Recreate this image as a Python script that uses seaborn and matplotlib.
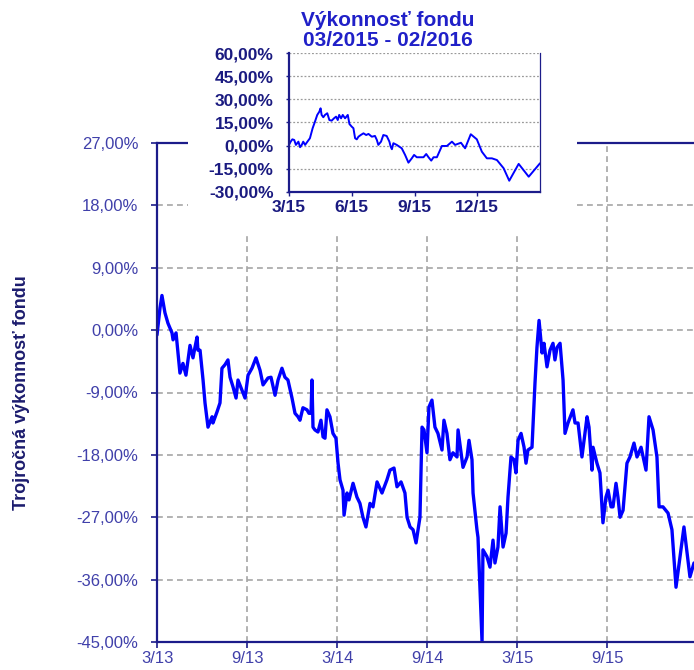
import matplotlib
matplotlib.use('Agg')
import matplotlib.pyplot as plt
import numpy as np
import pandas as pd
import seaborn as sns
from matplotlib.patches import Rectangle
from matplotlib.ticker import FuncFormatter

# ---------------- data ----------------
# main chart: months since 3/2013, three-year return in %
main_month = [0.00, 0.20, 0.33, 0.53, 0.73, 1.00, 1.07, 1.27, 1.53, 1.73, 1.93, 2.20, 2.40, 2.53, 2.67,
              2.73, 2.87, 3.07, 3.20, 3.40, 3.67, 3.73, 4.00, 4.20, 4.33, 4.53, 4.73, 4.87, 5.07, 5.27,
              5.40, 5.67, 5.87, 6.07, 6.33, 6.60, 6.87, 7.07, 7.40, 7.60, 7.87, 8.07, 8.33, 8.53, 8.73,
              9.00, 9.20, 9.40, 9.53, 9.73, 10.00, 10.13, 10.27, 10.33, 10.40, 10.53, 10.73, 10.93, 11.07,
              11.20, 11.33, 11.53, 11.73, 11.93, 12.07, 12.20, 12.40, 12.47, 12.67, 12.80, 13.07, 13.33,
              13.53, 13.73, 13.93, 14.20, 14.40, 14.67, 15.00, 15.33, 15.53, 15.80, 16.00, 16.27, 16.53,
              16.67, 16.87, 17.07, 17.27, 17.40, 17.53, 17.67, 17.80, 18.00, 18.13, 18.33, 18.53, 18.73,
              19.00, 19.13, 19.33, 19.53, 19.73, 20.00, 20.07, 20.27, 20.40, 20.67, 20.80, 21.00, 21.07,
              21.33, 21.40, 21.67, 21.73, 22.00, 22.20, 22.40, 22.53, 22.73, 22.87, 23.07, 23.27, 23.40,
              23.60, 23.80, 23.93, 24.07, 24.27, 24.47, 24.60, 24.73, 25.00, 25.20, 25.33, 25.47, 25.67,
              25.80, 26.00, 26.20, 26.40, 26.53, 26.67, 26.87, 27.07, 27.20, 27.40, 27.73, 27.87, 28.07,
              28.33, 28.47, 28.67, 28.80, 29.00, 29.07, 29.33, 29.53, 29.73, 29.93, 30.07, 30.27, 30.40,
              30.60, 30.73, 30.87, 31.07, 31.33, 31.53, 31.80, 32.00, 32.27, 32.60, 32.80, 33.07, 33.33,
              33.47, 33.73, 34.07, 34.33, 34.60, 35.13, 35.53, 35.80]
main_return = [-0.7, 3.2, 5.0, 2.5, 1.0, -0.4, -1.4, -0.4, -6.2, -4.8, -6.5, -2.2, -4.0, -2.5, -1.0,
               -2.9, -2.9, -7.2, -10.5, -14.0, -12.5, -13.4, -11.8, -10.5, -5.5, -5.0, -4.3, -6.8, -8.2, -9.8,
               -7.2, -8.7, -9.8, -6.5, -5.5, -4.0, -5.8, -7.9, -6.9, -6.8, -9.4, -7.2, -5.5, -6.8, -7.2,
               -9.8, -12.0, -12.5, -13.0, -11.2, -11.5, -12.0, -12.0, -7.2, -14.0, -14.4, -14.7, -13.0, -15.4,
               -15.6, -11.5, -12.5, -14.9, -15.6, -19.2, -21.6, -23.1, -26.7, -23.5, -24.5, -22.1, -24.1,
               -25.0, -27.0, -28.4, -25.0, -25.5, -21.9, -23.5, -21.6, -20.2, -19.9, -22.6, -21.9, -23.5,
               -27.0, -28.4, -28.8, -30.7, -28.8, -27.0, -14.0, -14.4, -17.7, -11.1, -10.1, -14.0, -14.9,
               -17.3, -13.0, -14.9, -18.7, -17.7, -18.3, -14.4, -17.7, -19.8, -18.3, -15.9, -18.7, -23.5,
               -28.8, -29.9, -45.0, -31.7, -32.7, -34.2, -30.3, -33.6, -31.3, -25.5, -31.3, -29.3, -24.1,
               -18.3, -18.7, -20.6, -15.9, -14.9, -16.9, -19.2, -17.3, -16.9, -7.6, -2.5, 1.4, -3.3,
               -1.9, -5.3, -2.9, -1.9, -4.3, -2.5, -1.9, -7.2, -14.9, -13.4, -11.5, -13.4, -13.4,
               -18.3, -15.9, -12.5, -14.0, -20.2, -16.9, -19.2, -20.6, -27.8, -24.1, -23.1, -25.5, -25.5,
               -22.1, -24.1, -27.0, -26.0, -19.2, -18.3, -16.3, -18.3, -16.9, -20.2, -12.5, -14.4, -18.3,
               -25.5, -25.5, -26.4, -28.8, -37.1, -28.4, -35.6, -33.6]

# inset: months since 3/2015, one-year return in %
inset_month = [0.00, 0.08, 0.16, 0.25, 0.33, 0.45, 0.53, 0.61, 0.68, 0.77, 0.88, 1.00, 1.13, 1.24, 1.35,
               1.45, 1.51, 1.56, 1.64, 1.72, 1.83, 1.93, 2.04, 2.15, 2.25, 2.33, 2.40, 2.49, 2.57, 2.68,
               2.81, 2.89, 3.00, 3.08, 3.16, 3.24, 3.32, 3.43, 3.56, 3.69, 3.80, 3.96, 4.11, 4.20, 4.27,
               4.40, 4.51, 4.67, 4.80, 4.86, 4.92, 4.99, 5.15, 5.39, 5.55, 5.71, 5.87, 5.98, 6.11, 6.27,
               6.43, 6.56, 6.67, 6.80, 6.91, 7.07, 7.31, 7.55, 7.79, 7.94, 8.22, 8.42, 8.69, 8.98, 9.22,
               9.46, 9.70, 9.94, 10.26, 10.53, 10.98, 11.46, 12.00]
inset_return = [0.5, 2.6, 4.1, 3.7, 0.5, 2.6, -1.0, 0.5, 2.6, 0.5, 2.6, 4.8, 11.3, 15.5, 19.9,
                22.0, 24.2, 19.9, 18.4, 19.9, 21.0, 16.6, 16.2, 17.7, 18.8, 16.6, 19.9, 17.7, 19.9, 17.7,
                19.9, 14.0, 12.3, 11.3, 4.8, 4.1, 5.8, 6.9, 8.0, 6.9, 7.6, 5.8, 6.3, 3.7, 0.5,
                2.6, 6.9, 6.3, 2.6, -0.6, -2.3, 1.6, 0.5, -1.7, -6.0, -11.0, -8.2, -6.0, -7.5, -7.5,
                -7.5, -5.4, -7.5, -9.7, -7.5, -7.5, -0.2, -0.2, 2.6, 0.5, 1.9, -1.7, 7.4, 4.1, -3.9,
                -8.2, -8.2, -9.3, -14.6, -22.7, -11.8, -20.1, -11.4]

main_tick_months = [0, 6, 12, 18, 24, 30]
main_tick_labels = ['3/13', '9/13', '3/14', '9/14', '3/15', '9/15']
main_y_ticks = [-45, -36, -27, -18, -9, 0, 9, 18, 27]
inset_tick_months = [0, 3, 6, 9]
inset_tick_labels = ['3/15', '6/15', '9/15', '12/15']
inset_y_ticks = [-30, -15, 0, 15, 30, 45, 60]

main_df = pd.DataFrame({'month': main_month, 'ret': main_return})
inset_df = pd.DataFrame({'month': inset_month, 'ret': inset_return})

# ---------------- style ----------------
sns.set_style('white')
plt.rcParams['font.family'] = ['Liberation Sans', 'DejaVu Sans']

NAVY = '#1c1c8a'
LABEL_BLUE = '#4040aa'
LINE_BLUE = '#0000ff'
GRID = '#a6a6a6'

pct = FuncFormatter(lambda v, p: f'{v:.2f}'.replace('.', ',') + '%')

fig = plt.figure(figsize=(6.94, 6.70), dpi=100)

# ---------------- main axes ----------------
ax = fig.add_axes([157 / 694, 28 / 670, 540 / 694, 499 / 670])
ax.set_facecolor('white')
sns.lineplot(data=main_df, x='month', y='ret', ax=ax, color=LINE_BLUE, lw=2.4,
             estimator=None, sort=False, legend=False)
ax.set_xlim(0, 36)
ax.set_ylim(-45, 27)
ax.set_yticks(main_y_ticks)
ax.yaxis.set_major_formatter(pct)
ax.set_xticks(main_tick_months)
ax.set_xticklabels(main_tick_labels)
ax.set_xlabel('')
ax.set_ylabel('Trojročná výkonnosť fondu', fontsize=13, fontweight='bold', color='#1c1c6e')
ax.yaxis.set_label_coords(-0.235, 0.5)

for s in ['left', 'bottom', 'top', 'right']:
    ax.spines[s].set_color(NAVY)
    ax.spines[s].set_linewidth(1.6)
ax.tick_params(axis='y', which='major', direction='out', length=4.5, width=1.2,
               color=NAVY, labelcolor=LABEL_BLUE, labelsize=12, pad=9, left=True)
ax.tick_params(axis='x', which='major', direction='out', length=4.5, width=1.2,
               color=NAVY, labelcolor=LABEL_BLUE, labelsize=12, pad=2, bottom=True)

for y in main_y_ticks[1:-1]:
    ax.axhline(y, color=GRID, lw=1.2, ls=(0, (3.5, 2.5)), zorder=0)
for x in main_tick_months[1:]:
    ax.axvline(x, color=GRID, lw=1.2, ls=(0, (3.5, 2.5)), zorder=0)

# white panel behind inset
fig.add_artist(Rectangle((188 / 694, (670 - 234) / 670), (577 - 188) / 694, 234 / 670,
                         transform=fig.transFigure, facecolor='white', edgecolor='none', zorder=1))

# ---------------- inset ----------------
ax2 = fig.add_axes([289 / 694, (670 - 192) / 670, 251 / 694, 139 / 670])
ax2.set_zorder(3)
ax2.set_facecolor('white')
sns.lineplot(data=inset_df, x='month', y='ret', ax=ax2, color=LINE_BLUE, lw=1.4,
             estimator=None, sort=False, legend=False)
ax2.set_xlim(0, 12)
ax2.set_ylim(-30, 60)
ax2.set_yticks(inset_y_ticks)
ax2.yaxis.set_major_formatter(pct)
ax2.set_xticks(inset_tick_months)
ax2.set_xticklabels(inset_tick_labels)
ax2.set_xlabel('')
ax2.set_ylabel('')
for y in inset_y_ticks[1:]:
    ax2.axhline(y, color='#9a9a9a', lw=0.9, ls=(0, (1.5, 1.5)), zorder=0)
ax2.spines['top'].set_visible(False)
ax2.spines['left'].set_color(NAVY)
ax2.spines['left'].set_linewidth(1.6)
ax2.spines['bottom'].set_color(NAVY)
ax2.spines['bottom'].set_linewidth(1.6)
ax2.spines['right'].set_color(NAVY)
ax2.spines['right'].set_linewidth(0.9)
ax2.tick_params(axis='y', direction='out', length=2, width=1, color=NAVY,
                labelcolor='#1a1a80', labelsize=12.5, pad=9, left=True)
ax2.tick_params(axis='x', direction='out', length=3, width=1, color=NAVY,
                labelcolor='#1a1a80', labelsize=12.5, pad=3, bottom=True)
for lab in ax2.get_xticklabels() + ax2.get_yticklabels():
    lab.set_fontweight('bold')

fig.text(388 / 694, 1 - 20 / 670, 'Výkonnosť fondu', ha='center', va='center',
         fontsize=15, fontweight='bold', color='#2020c8', zorder=4)
fig.text(388 / 694, 1 - 40 / 670, '03/2015 - 02/2016', ha='center', va='center',
         fontsize=15, fontweight='bold', color='#2020c8', zorder=4)

fig.savefig('out.png', dpi=100, facecolor='white')
